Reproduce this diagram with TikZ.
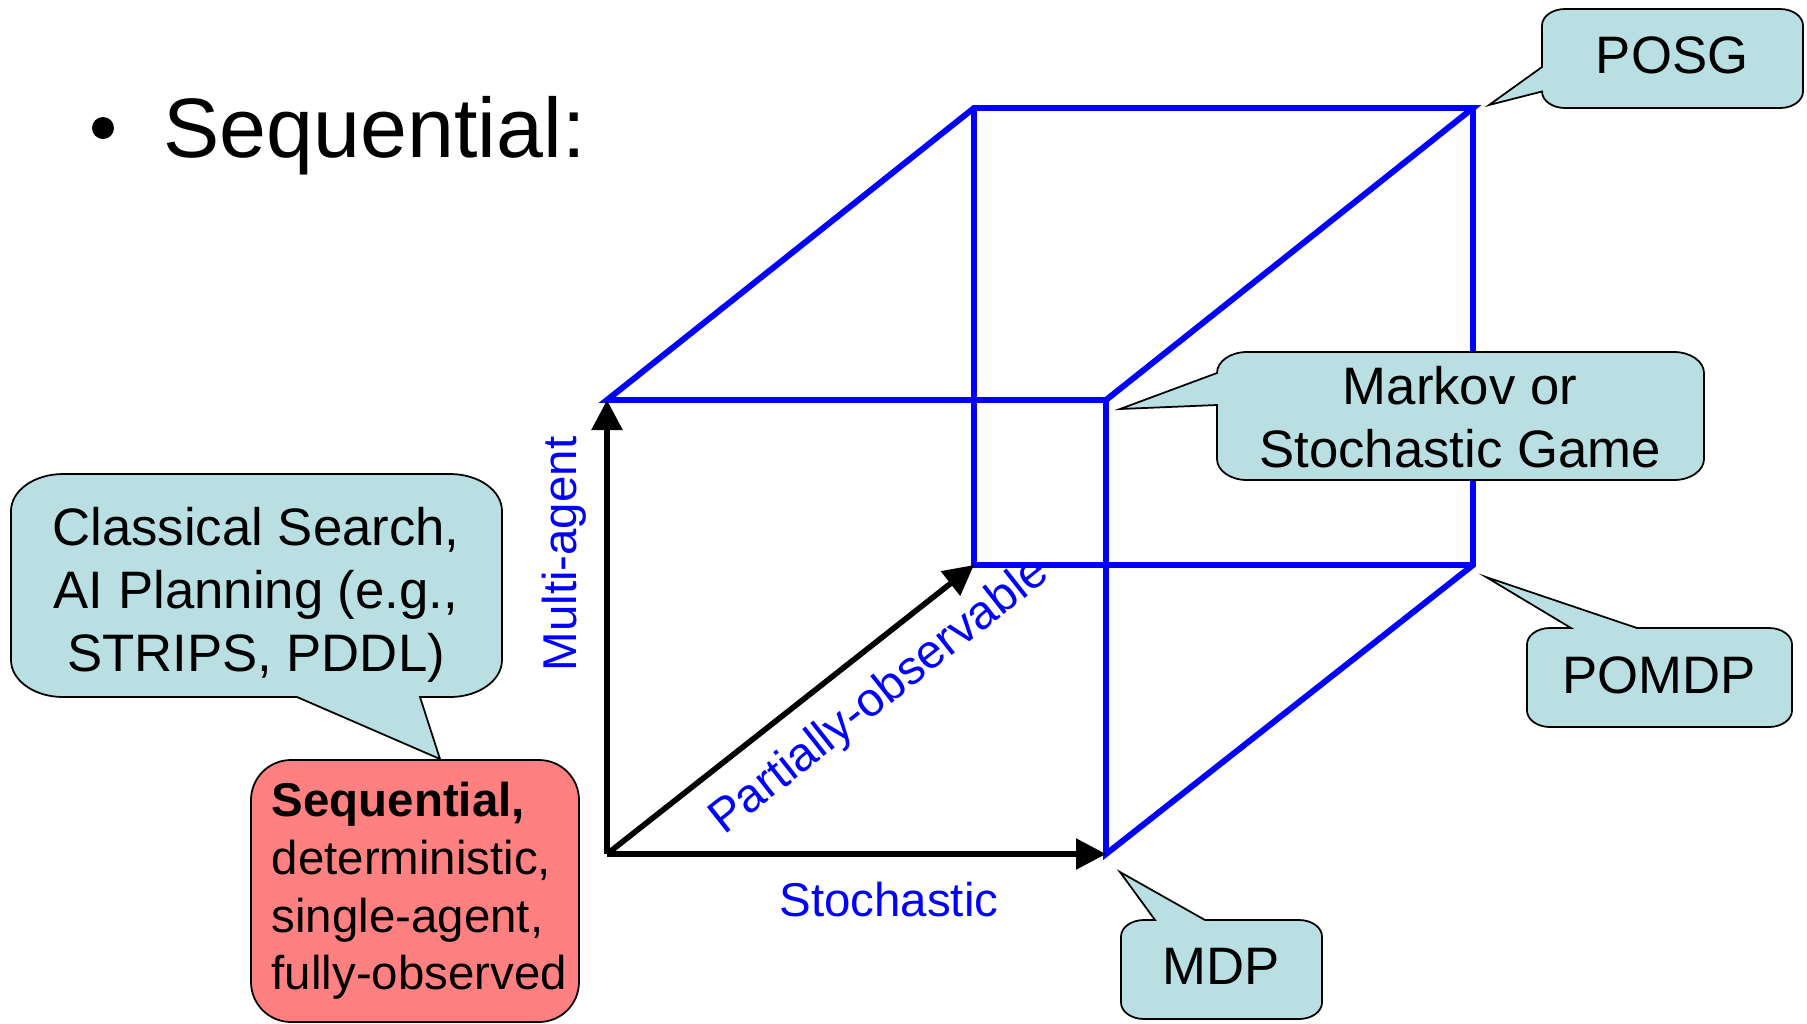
\documentclass[tikz,border=0pt]{standalone}
\usepackage{fontspec}
\setmainfont{Liberation Sans}
\usepackage{xcolor}
\usetikzlibrary{arrows.meta}
\definecolor{bubblecol}{RGB}{185,223,226}
\definecolor{seqcol}{RGB}{255,128,128}

\begin{document}
\begin{tikzpicture}[x=0.1mm,y=-0.1mm]
      \tikzstyle{edge} = [blue, line width=1.7pt, line join=miter]
      \tikzstyle{axis} = [black, line width=1.6pt,
      -{Triangle[length=3mm,width=3mm]}]
      \tikzstyle{bubble} = [draw=black, line width=0.5pt, fill=bubblecol]
      \tikzstyle{lbl} = [inner sep=0pt, align=center,
      font=\fontsize{15}{17.9}\selectfont]
      \tikzstyle{axlbl} = [inner sep=0pt, text=blue,
      font=\fontsize{13.5}{16}\selectfont]
      \tikzstyle{circ} = [circle, minimum size=2.2mm, inner sep=0pt, fill]
      \useasboundingbox (0,0) rectangle (1807,1023);
      % TITLE
      \node[circ] (dot) at (103,128) {};
      \node[anchor=base west, inner sep=0pt,
      font=\fontsize{24}{29}\selectfont] (title) at (163,157) {Sequential:};
      % CUBE
      \coordinate (o) at (607,854); \coordinate (a) at (607,400);
      \coordinate (fbr) at (1106,854); \coordinate (ftr) at (1106,400);
      \coordinate (b) at (974,565); \coordinate (btl) at (974,108);
      \coordinate (btr) at (1473,108); \coordinate (bbr) at (1473,565);
      \draw[edge] (a) -- (btl) -- (btr) -- (ftr) -- cycle;
      \draw[edge] (ftr) -- (fbr) -- (bbr) -- (btr);
      \draw[edge] (btl) -- (b) -- (bbr);
      % AXES
      \draw[axis] (o) -- (a);
      \draw[axis] (o) -- (fbr);
      \draw[axis] (o) -- (b);
      \node[axlbl, rotate=90] (multi) at (564,554) {Multi-agent};
      \node[axlbl] (stoch) at (889,900) {Stochastic};
      \node[axlbl, rotate=38.3] (partial) at (880,697) {Partially-observable};
      % CALLOUTS
      \coordinate (posgtip) at (1489,105);
      \coordinate (mkvtip) at (1120,409);
      \coordinate (pomdptip) at (1486,577);
      \coordinate (mdptip) at (1120,872);
      \coordinate (clstip) at (440,759);
      \draw[bubble] (1565,9) -- (1780,9) arc(270:360:23 and 16.5)
      -- (1803,91.5) arc(0:90:23 and 16.5) -- (1565,108)
      arc(90:180:23 and 16.5) -- (posgtip) -- (1542,67) -- (1542,25.5)
      arc(180:270:23 and 16.5) -- cycle;
      \node[lbl] (posg) at (1672,55) {POSG};
      \draw[bubble] (1247,352) -- (1674,352) arc(270:360:30 and 21)
      -- (1704,459) arc(0:90:30 and 21) -- (1247,480)
      arc(90:180:30 and 21) -- (1217,405) -- (mkvtip) -- (1217,373)
      arc(180:270:30 and 21) -- cycle;
      \node[lbl] (markov) at (1460,417) {Markov or\\Stochastic Game};
      \draw[bubble] (1550,628) -- (1571,628) -- (pomdptip) -- (1637,628)
      -- (1769,628) arc(270:360:23 and 16.5) -- (1792,710.5)
      arc(0:90:23 and 16.5) -- (1550,727) arc(90:180:23 and 16.5)
      -- (1527,644.5) arc(180:270:23 and 16.5) -- cycle;
      \node[lbl] (pomdp) at (1659,675) {POMDP};
      \draw[bubble] (1144,920) -- (1155,920) -- (mdptip) -- (1205,920)
      -- (1299,920) arc(270:360:23 and 16.5) -- (1322,1002.5)
      arc(0:90:23 and 16.5) -- (1144,1019) arc(90:180:23 and 16.5)
      -- (1121,936.5) arc(180:270:23 and 16.5) -- cycle;
      \node[lbl] (mdp) at (1221,966) {MDP};
      \draw[bubble] (63,474) -- (450,474) arc(270:360:52 and 37)
      -- (502,660) arc(0:90:52 and 37) -- (420,697) -- (clstip)
      -- (297,697) -- (63,697) arc(90:180:52 and 37) -- (11,511)
      arc(180:270:52 and 37) -- cycle;
      \node[lbl] (classical) at (256,595) {Classical Search,\\AI Planning
      (e.g.,\\STRIPS, PDDL)};
      % SEQUENTIAL BOX
      \draw[draw=black, line width=0.5pt, fill=seqcol, rounded corners=4mm]
      (251,760) rectangle (579,1022);
      \node[anchor=west, inner sep=0pt, align=left,
      font=\fontsize{13.5}{16.4}\selectfont] (seq) at (271,891)
      {\textbf{Sequential,}\\deterministic,\\single-agent,\\fully-observed};
\end{tikzpicture}
\end{document}
